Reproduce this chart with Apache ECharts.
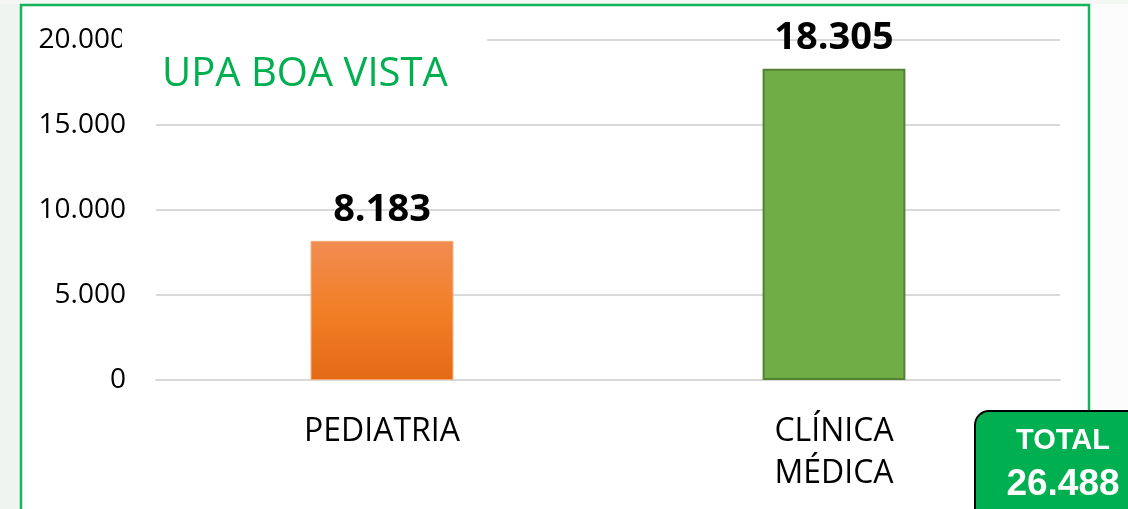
<!DOCTYPE html>
<html>
<head>
<meta charset="utf-8">
<script src="https://cdn.jsdelivr.net/npm/echarts@6/dist/echarts.min.js"></script>
<style>
  html, body { margin: 0; padding: 0; background: #fff; }
  #main { width: 1128px; height: 509px; }
</style>
</head>
<body>
<div id="main"></div>
<script>
// dados do gráfico
var categorias = ['PEDIATRIA', 'CLÍNICA\nMÉDICA'];
var atendimentos = [8183, 18305];
var coresBarras = ['laranja', 'verde'];
var ticksY = [0, 5000, 10000, 15000, 20000];
var titulo = 'UPA BOA VISTA';

function fmt(v) {
    return String(v).replace(/\B(?=(\d{3})+(?!\d))/g, '.');
}

var total = atendimentos.reduce(function (a, b) { return a + b; }, 0);

var estilos = {
    laranja: {
        color: new echarts.graphic.LinearGradient(0, 0, 0, 1, [
            {offset: 0, color: '#f08c52'},
            {offset: 0.5, color: '#f27f26'},
            {offset: 1, color: '#e46a16'}
        ]),
        borderColor: '#f3a56e',
        borderWidth: 1
    },
    verde: {
        color: '#70ad47',
        borderColor: '#548235',
        borderWidth: 2
    }
};

var myChart = echarts.init(document.getElementById('main'));
var option = {
    backgroundColor: '#ffffff',
    animation: false,
    grid: {
        left: 156,
        right: 68,
        top: 40,
        bottom: 129
    },
    xAxis: {
        type: 'category',
        data: categorias,
        axisTick: { show: false },
        axisLine: { show: true, lineStyle: { color: '#d9d9d9', width: 2 } },
        axisLabel: {
            color: '#000',
            fontFamily: 'Open Sans',
            fontSize: 32,
            lineHeight: 42,
            margin: 31,
            interval: 0
        }
    },
    yAxis: {
        type: 'value',
        min: ticksY[0],
        max: ticksY[ticksY.length - 1],
        interval: 5000,
        axisLine: { show: false },
        axisTick: { show: false },
        splitLine: { lineStyle: { color: '#d9d9d9', width: 2 } },
        axisLabel: {
            color: '#000',
            fontFamily: 'Open Sans',
            fontSize: 28,
            margin: 30,
            formatter: function (v) { return fmt(v); }
        }
    },
    series: [{
        type: 'bar',
        barWidth: '31.6%',
        data: atendimentos.map(function (v, i) {
            return { value: v, itemStyle: estilos[coresBarras[i]] };
        }),
        label: {
            show: true,
            position: 'top',
            distance: 12,
            color: '#000',
            fontFamily: 'Open Sans',
            fontWeight: 'bold',
            fontSize: 38,
            formatter: function (p) { return fmt(p.value); }
        }
    }],
    graphic: [
        // fundo fora da moldura
        { type: 'rect', z: 50, shape: { x: 0, y: 0, width: 20, height: 509 }, style: { fill: '#eff4f0' } },
        { type: 'rect', z: 50, shape: { x: 1090, y: 0, width: 38, height: 509 }, style: { fill: '#fbfcfb' } },
        { type: 'rect', z: 50, shape: { x: 0, y: 0, width: 1128, height: 4 }, style: { fill: '#f4f7f4' } },
        // moldura verde
        { type: 'rect', z: 60, shape: { x: 21, y: 5, width: 1068, height: 560 }, style: { fill: 'none', stroke: '#14b45a', lineWidth: 2.5 } },
        // fundo do título
        { type: 'rect', z: 70, shape: { x: 122, y: 18, width: 365, height: 92 }, style: { fill: '#ffffff' } },
        {
            type: 'text', z: 80, left: 162, top: 55,
            style: { text: titulo, fill: '#00b050', font: '40px "Open Sans"' }
        },
        // caixa total
        {
            type: 'rect', z: 90,
            shape: { x: 975, y: 411, width: 175, height: 120, r: 14 },
            style: { fill: '#00b050', stroke: '#000', lineWidth: 2 }
        },
        {
            type: 'text', z: 95, x: 1063, y: 441,
            style: { text: 'TOTAL', fill: '#fff', font: 'bold 29px "Liberation Sans"', textAlign: 'center', textVerticalAlign: 'middle' }
        },
        {
            type: 'text', z: 95, x: 1063, y: 485,
            style: { text: fmt(total), fill: '#fff', font: 'bold 37px "Liberation Sans"', textAlign: 'center', textVerticalAlign: 'middle' }
        }
    ]
};
myChart.setOption(option);
window.onresize = myChart.resize;
</script>
</body>
</html>
